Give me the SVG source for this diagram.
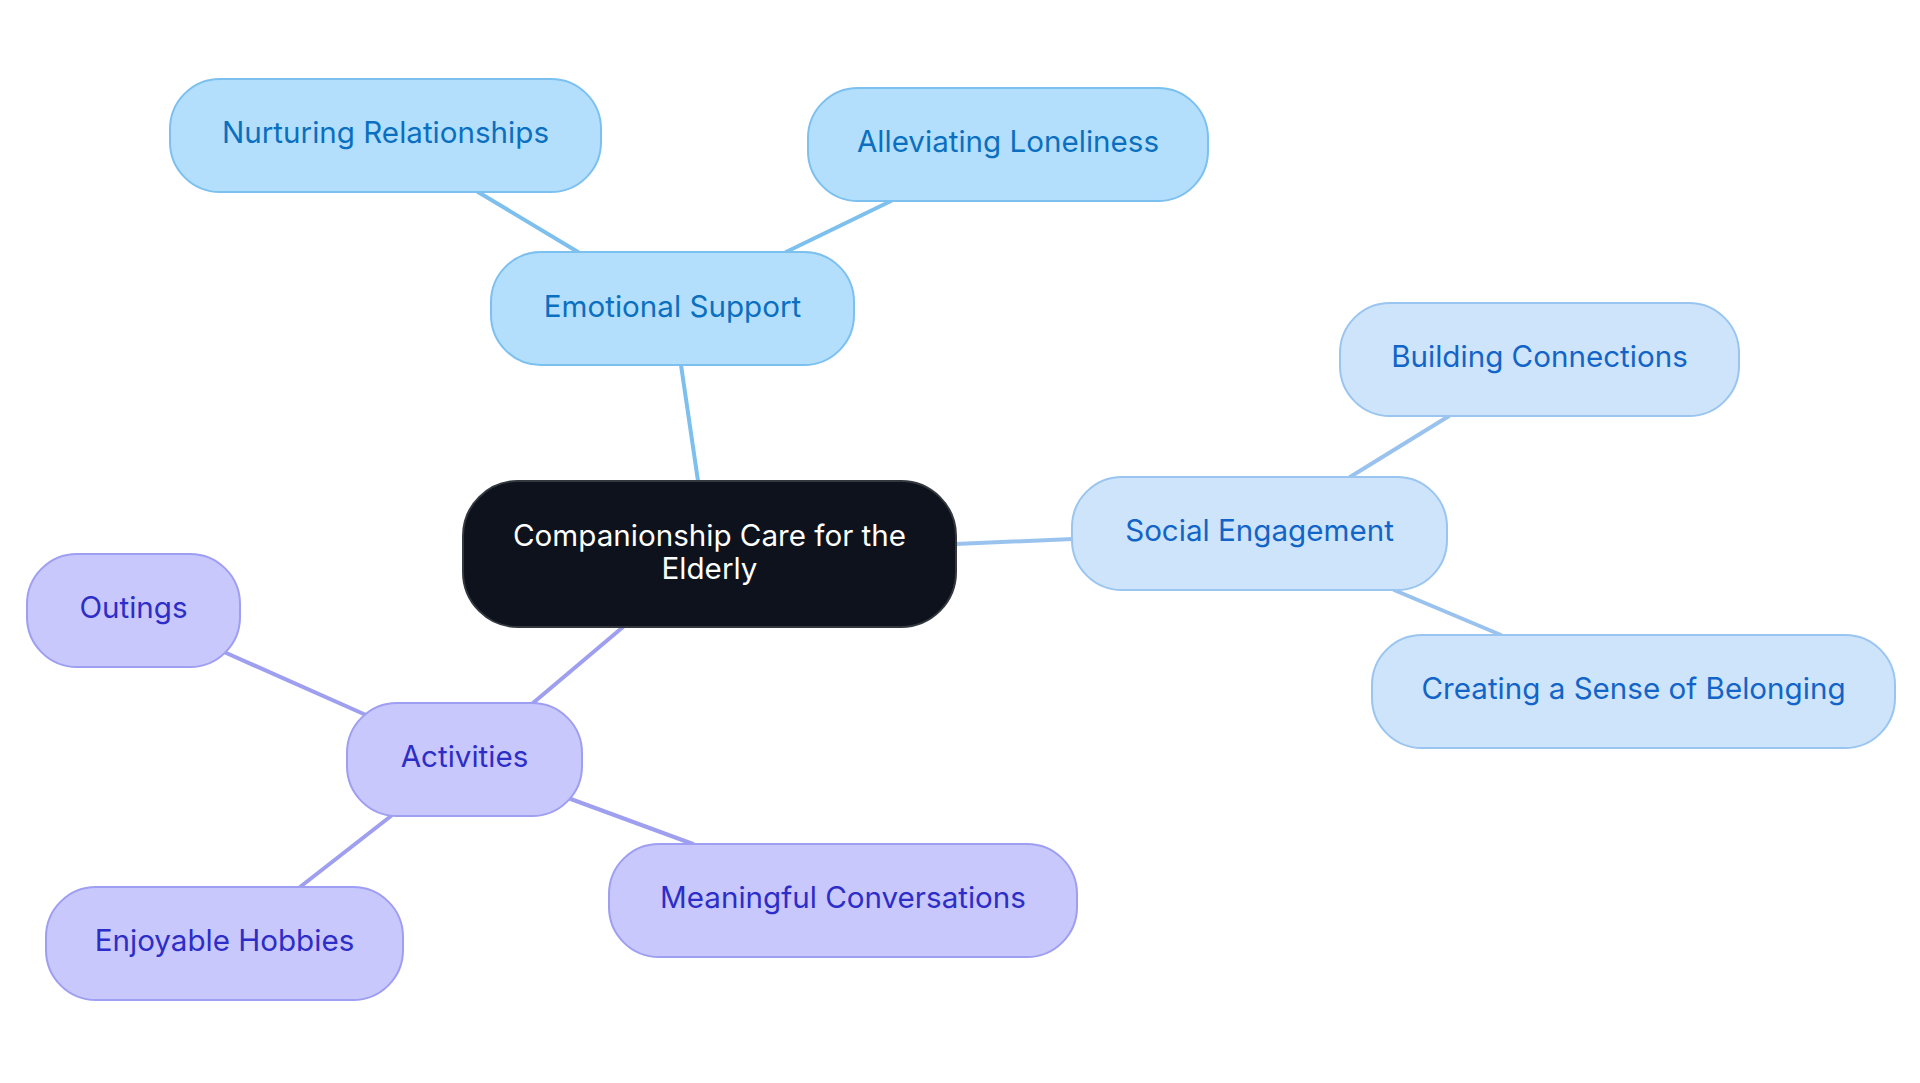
<svg xmlns="http://www.w3.org/2000/svg" width="1920" height="1083" viewBox="0 0 1920 1083">
<style>
text{font-family:Inter,"Noto Sans","Liberation Sans",sans-serif;font-size:29.6px;text-anchor:middle}
.e rect{fill:#B3DFFD;stroke:#7CC0F0;stroke-width:2}
.e text{fill:#0B6FC0}
.s rect{fill:#CDE4FA;stroke:#99C5F0;stroke-width:2}
.s text{fill:#1264C8}
.a rect{fill:#C8C8FC;stroke:#9E9EF2;stroke-width:2}
.a text{fill:#2D2DC8}
.c rect{fill:#0D121C;stroke:#33383F;stroke-width:2}
.c text{fill:#FFFFFF}
#connectors line{stroke-width:4;stroke-linecap:round}
.le{stroke:#7DC0EE}
.ls{stroke:#99C3EE}
.la{stroke:#9F9FF0}
</style>
<rect width="1920" height="1083" fill="#FFFFFF"/>
<g id="connectors">
<line class="le" x1="698" y1="481" x2="681" y2="365"/>
<line class="le" x1="578" y1="252" x2="478" y2="192"/>
<line class="le" x1="786" y1="252" x2="891" y2="201"/>
<line class="ls" x1="956" y1="544" x2="1073" y2="539"/>
<line class="ls" x1="1350" y1="477" x2="1449" y2="416"/>
<line class="ls" x1="1394" y1="590" x2="1501" y2="635"/>
<line class="la" x1="623" y1="627" x2="533" y2="703"/>
<line class="la" x1="366" y1="715" x2="224" y2="652"/>
<line class="la" x1="568" y1="798" x2="693" y2="844"/>
<line class="la" x1="391" y1="816" x2="300" y2="887"/>
</g>
<g id="center" class="c">
<rect x="463" y="481" width="493" height="146" rx="55"/>
<text x="709.5" y="546">Companionship Care for the</text>
<text x="709.5" y="579">Elderly</text>
</g>
<g id="emotional-support" class="e">
<rect x="491" y="252" width="363" height="113" rx="50"/>
<text x="672.5" y="317">Emotional Support</text>
</g>
<g id="nurturing-relationships" class="e">
<rect x="170" y="79" width="431" height="113" rx="50"/>
<text x="385.5" y="143">Nurturing Relationships</text>
</g>
<g id="alleviating-loneliness" class="e">
<rect x="808" y="88" width="400" height="113" rx="50"/>
<text x="1008" y="152">Alleviating Loneliness</text>
</g>
<g id="social-engagement" class="s">
<rect x="1072" y="477" width="375" height="113" rx="50"/>
<text x="1259.5" y="541">Social Engagement</text>
</g>
<g id="building-connections" class="s">
<rect x="1340" y="303" width="399" height="113" rx="50"/>
<text x="1539.5" y="367">Building Connections</text>
</g>
<g id="sense-of-belonging" class="s">
<rect x="1372" y="635" width="523" height="113" rx="50"/>
<text x="1633.5" y="699">Creating a Sense of Belonging</text>
</g>
<g id="activities" class="a">
<rect x="347" y="703" width="235" height="113" rx="50"/>
<text x="464.5" y="767">Activities</text>
</g>
<g id="outings" class="a">
<rect x="27" y="554" width="213" height="113" rx="50"/>
<text x="133.5" y="618">Outings</text>
</g>
<g id="meaningful-conversations" class="a">
<rect x="609" y="844" width="468" height="113" rx="50"/>
<text x="843" y="908">Meaningful Conversations</text>
</g>
<g id="enjoyable-hobbies" class="a">
<rect x="46" y="887" width="357" height="113" rx="50"/>
<text x="224.5" y="951">Enjoyable Hobbies</text>
</g>
</svg>
